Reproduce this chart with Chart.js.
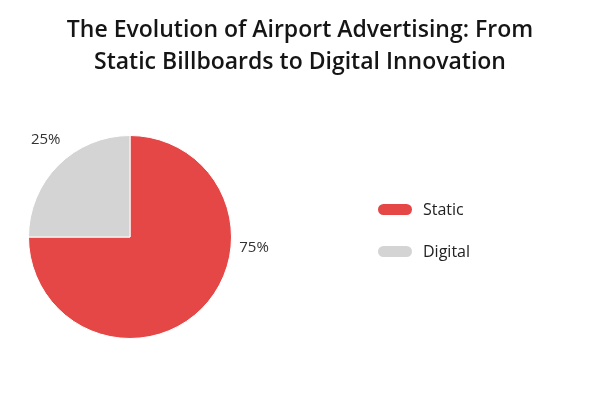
<!DOCTYPE html>
<html>
<head>
<meta charset="utf-8">
<script src="https://cdn.jsdelivr.net/npm/chart.js@4/dist/chart.umd.min.js"></script>
<style>
  html, body { margin: 0; padding: 0; background: #fff; }
  #wrap { position: relative; width: 600px; height: 400px; }
  #title { position: absolute; left: 0; top: 12px; width: 600px; text-align: center; font-family: "Open Sans", sans-serif; font-size: 23px; font-weight: 600; line-height: 32px; color: #151515; }
  #legend { position: absolute; left: 378px; top: 197px; font-family: "Open Sans", sans-serif; font-size: 16px; color: #222; }
  .item { display: flex; align-items: center; height: 24px; margin-bottom: 18px; }
  .pill { width: 34px; height: 11px; border-radius: 6px; margin-right: 11px; }
</style>
</head>
<body>
<div id="wrap">
  <canvas id="chart" width="600" height="400"></canvas>
  <div id="title">The Evolution of Airport Advertising: From<br>Static Billboards to Digital Innovation</div>
  <div id="legend"></div>
</div>
<script>
document.addEventListener('DOMContentLoaded', function () {
    const categories = ["Static", "Digital"];
    const shares = [75, 25];
    const colors = ["#E54646", "#D4D4D4"];

    // outside percentage labels, angle in degrees (0 = 3 o'clock, clockwise)
    const outsideLabels = {
        id: "outsideLabels",
        afterDatasetsDraw(chart, args, opts) {
            const ctx = chart.ctx;
            const meta = chart.getDatasetMeta(0);
            ctx.save();
            ctx.font = "15px 'Open Sans', sans-serif";
            ctx.fillStyle = "#333";
            ctx.textAlign = "center";
            ctx.textBaseline = "middle";
            meta.data.forEach((arc, i) => {
                const p = arc.getProps(["x", "y", "startAngle", "endAngle", "outerRadius"], true);
                let a = (p.startAngle + p.endAngle) / 2;
                if (opts.angles[i] != null) a = opts.angles[i] * Math.PI / 180;
                const r = p.outerRadius + opts.offsets[i];
                ctx.fillText(shares[i] + "%", p.x + Math.cos(a) * r, p.y + Math.sin(a) * r);
            });
            ctx.restore();
        }
    };

    const chart = new Chart(document.getElementById("chart"), {
        type: "pie",
        data: {
            labels: categories,
            datasets: [{
                data: shares,
                backgroundColor: colors,
                borderColor: "#ffffff",
                borderWidth: 1,
            }],
        },
        options: {
            responsive: false,
            animation: false,
            layout: { padding: { left: 28, right: 368, top: 135, bottom: 61 } },
            plugins: {
                legend: { display: false },
                tooltip: { enabled: false },
                title: { display: false },
                outsideLabels: { angles: [5, 229], offsets: [23, 27] },
            },
        },
        plugins: [outsideLabels],
    });

    const legend = document.getElementById("legend");
    categories.forEach((name, i) => {
        const row = document.createElement("div");
        row.className = "item";
        row.innerHTML = '<span class="pill" style="background:' + colors[i] + '"></span>' + name;
        legend.appendChild(row);
    });
});
</script>
</body>
</html>
